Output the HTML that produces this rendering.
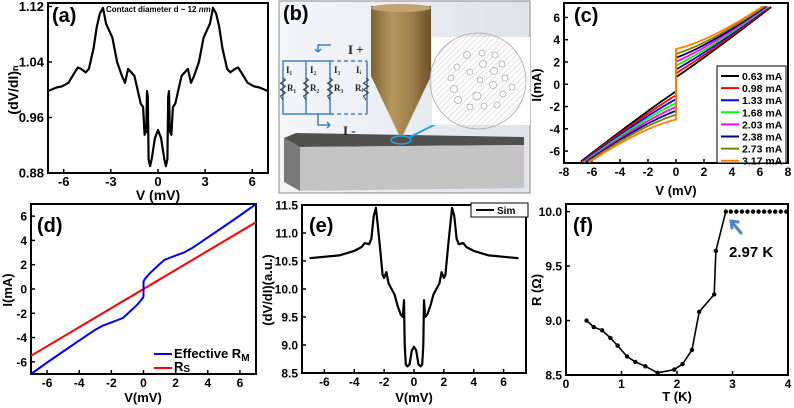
<!DOCTYPE html>
<html><head><meta charset="utf-8"><style>
html,body{margin:0;padding:0;background:#fff;}
svg{display:block;font-family:"Liberation Sans",sans-serif;}
text{font-weight:bold;}
</style></head><body>
<svg id="fig" width="794" height="408" viewBox="0 0 794 408" xmlns="http://www.w3.org/2000/svg">
<g id="panel-b">
  <defs>
    <linearGradient id="brass" x1="0" x2="1" y1="0" y2="0">
      <stop offset="0" stop-color="#7d6233"/><stop offset="0.35" stop-color="#b8975f"/><stop offset="0.7" stop-color="#9c7c48"/><stop offset="1" stop-color="#6b5228"/>
    </linearGradient>
    <linearGradient id="bg" x1="0" x2="1" y1="0" y2="0">
      <stop offset="0" stop-color="#f4f6f9"/><stop offset="1" stop-color="#dfe3ea"/>
    </linearGradient>
    <pattern id="hatch" width="4" height="4" patternUnits="userSpaceOnUse" patternTransform="rotate(45)">
      <line x1="0" y1="0" x2="0" y2="4" stroke="#ccc" stroke-width="1"/>
    </pattern>
  </defs>
  <rect x="279" y="1" width="251" height="192" fill="url(#bg)" stroke="#888" stroke-width="1"/>
  <polygon points="284,138 296,133 524,137 524,145 300,147" fill="#505050"/>
  <polygon points="300,147 524,145 524,188 300,191" fill="#c4c4c4"/>
  <polygon points="284,138 300,147 300,191 284,182" fill="#7a7a7a"/>
  <rect x="371" y="6" width="60" height="70" fill="url(#brass)"/>
  <ellipse cx="401" cy="8" rx="30" ry="4" fill="#c2a46e"/>
  <polygon points="371,76 431,76 403,135 399,135" fill="url(#brass)"/>
  <ellipse cx="401" cy="140" rx="10" ry="4" fill="none" stroke="#2aa3e0" stroke-width="1.5"/>
  <line x1="410" y1="137" x2="436" y2="124" stroke="#2aa3e0" stroke-width="2"/>
  <rect x="432" y="37" width="98" height="88" fill="#fff"/>
  <circle cx="478" cy="81" r="48" fill="url(#hatch)" stroke="#aaa" stroke-width="0.8"/>
  <g id="pores" fill="#fff" stroke="#aaa" stroke-width="0.8"></g>
  <g stroke="#3d85c6" stroke-width="1.5" fill="none">
    <path d="M330,61 H283 V114 H330 M306,61 V114 M367,61 V114"/>
    <path d="M330,61 H367 M330,114 H367" stroke-dasharray="4,3"/>
    <path d="M330,61 V114"/>
    <path d="M320,45 H318 V52 M318,52 l-3,-3 M318,52 l3,-3" />
    <path d="M318,114 V125 H330 M330,125 l-3,-3 M330,125 l-3,3"/>
    <path d="M318,45 H331"/>
  </g>
  <g id="resistors" stroke="#333" stroke-width="1" fill="none"></g>
  <g font-family="Liberation Serif, serif" font-weight="normal" fill="#222">
    <text x="348" y="54" font-size="13" font-weight="normal">I +</text>
    <text x="343" y="135" font-size="13" font-weight="normal">I -</text>
    <text x="286" y="73" font-size="9" font-weight="normal">I₁</text>
    <text x="310" y="73" font-size="9" font-weight="normal">I₂</text>
    <text x="334" y="73" font-size="9" font-weight="normal">I₃</text>
    <text x="356" y="73" font-size="9" font-weight="normal">Iᵢ</text>
    <text x="287" y="91" font-size="9" font-weight="normal">R₁</text>
    <text x="310" y="91" font-size="9" font-weight="normal">R₂</text>
    <text x="334" y="91" font-size="9" font-weight="normal">R₃</text>
    <text x="355" y="91" font-size="9" font-weight="normal">Rᵢ</text>
  </g>
  <text x="283" y="20" font-size="20">(b)</text>
</g>
<g id="charts"></g>
</svg>
<script>
// ---------- DATA ----------
// (a)
const aV = [0,0.2,0.4,0.5,0.6,0.65,0.7,0.75,0.85,0.95,1.1,1.3,1.5,1.7,1.9,2.1,2.3,2.6,2.9,3.1,3.3,3.5,3.7,3.9,4.1,4.4,4.6,4.9,5.1,5.3,5.7,6.1,6.5,7];
const aY = [0.942,0.93,0.90,0.89,0.90,0.99,0.998,0.94,0.935,0.975,0.98,1.0,1.02,1.025,1.03,1.01,1.02,1.04,1.075,1.085,1.095,1.118,1.11,1.09,1.06,1.03,1.025,1.03,1.032,1.025,1.01,1.005,1.003,0.998];
const aXTicks = [-6,-3,0,3,6];
const aYTicks = [0.88,0.96,1.04,1.12];
// (c)
const cOffsets = [0.63,0.98,1.33,1.68,2.03,2.38,2.73,3.17];
const cLabels = ["0.63 mA","0.98 mA","1.33 mA","1.68 mA","2.03 mA","2.38 mA","2.73 mA","3.17 mA"];
const cColors = ["#000","#f00","#00f","#0f0","#f0f","#000080","#808000","#ff8000"];
const cXTicks = [-8,-6,-4,-2,0,2,4,6,8];
const cYTicks = [-6,-4,-2,0,2,4,6];
// (d)
const dBlueV = [0,0,0.05,0.2,0.4,0.6,0.8,1.0,1.3,1.6,2,2.5,3,4,5,6,7];
const dBlueI = [0,0.6,0.75,1.0,1.3,1.55,1.8,2.05,2.4,2.55,2.75,3.0,3.35,4.25,5.15,6.05,7];
const dRedSlope = [5.5/7];
const dXTicks = [-6,-4,-2,0,2,4,6];
const dYTicks = [-6,-4,-2,0,2,4,6];
// (e)
const eV = [0,0.15,0.3,0.45,0.55,0.62,0.67,0.75,0.9,1.1,1.3,1.5,1.7,1.85,2.0,2.1,2.3,2.45,2.55,2.7,2.85,3.0,3.3,3.5,4,5,7];
const eY = [8.97,8.9,8.65,8.62,8.65,9.0,9.8,9.5,9.55,9.7,9.9,10.0,10.1,10.3,10.2,10.25,10.8,11.2,11.45,11.3,10.9,10.8,10.82,10.75,10.68,10.6,10.55];
const eXTicks = [-6,-4,-2,0,2,4,6];
const eYTicks = [8.5,9.0,9.5,10.0,10.5,11.0,11.5];
// (f)
const fT = [0.37,0.5,0.65,0.8,0.93,1.1,1.25,1.43,1.65,1.95,2.1,2.27,2.4,2.67,2.7,2.88];
const fR = [9.0,8.94,8.91,8.84,8.77,8.67,8.62,8.58,8.52,8.55,8.6,8.73,9.08,9.24,9.64,10.0];
const fFlatT = [2.97,3.07,3.17,3.27,3.37,3.47,3.57,3.67,3.77,3.87,3.97];
const fFlatR = [10,10,10,10,10,10,10,10,10,10,10];
const fXTicks = [0,1,2,3,4];
const fYTicks = [8.5,9.0,9.5,10.0];

// ---------- HELPERS ----------
const NS = "http://www.w3.org/2000/svg";
const root = document.getElementById('charts');
function mk(tag, parent, attrs){
  const e = document.createElementNS(NS, tag);
  for (const k in attrs) e.setAttribute(k, attrs[k]);
  (parent||root).appendChild(e);
  return e;
}
function scale(d0,d1,r0,r1){ return v => r0 + (v-d0)/(d1-d0)*(r1-r0); }
function fmt(v,dec){ return dec ? v.toFixed(dec) : String(v); }

function axes(name, x0,x1,y0,y1, xs, ys, xt, yt, xdec, ydec, fs){
  const g = mk('g');
  
  
  const fr = mk('rect', g, {x:x0,y:y0,width:x1-x0,height:y1-y0,fill:'none',stroke:'#000','stroke-width':2});
  
  
  xt.forEach(v=>{
    const x = xs(v);
    const t = mk('line', g, {x1:x,x2:x,y1:y1,y2:y1-4,stroke:'#000','stroke-width':1.5});
    
    
    const l = mk('text', g, {x:x,y:y1+13,'text-anchor':'middle','font-size':fs});
    l.textContent = fmt(v,xdec);
    
    
  });
  yt.forEach(v=>{
    const y = ys(v);
    const t = mk('line', g, {x1:x0,x2:x0+4,y1:y,y2:y,stroke:'#000','stroke-width':1.5});
    
    
    const l = mk('text', g, {x:x0-4,y:y+4.5,'text-anchor':'end','font-size':fs});
    l.textContent = fmt(v,ydec);
    
    
  });
  return g;
}
function line(name, pts, color, w, clip){
  const d = pts.map((p,i)=>(i?'L':'M')+p[0].toFixed(1)+','+p[1].toFixed(1)).join('');
  const p = mk('path', null, {d:d,fill:'none',stroke:color,'stroke-width':w,'stroke-linejoin':'round'});
  if (clip) p.setAttribute('clip-path','url(#'+clip+')');
  
  
  return p;
}
function txt(name, x,y,s,fs,anchor,rot){
  const t = mk('text', null, {x:x,y:y,'font-size':fs,'text-anchor':anchor||'start'});
  if (rot) t.setAttribute('transform','rotate(-90 '+x+' '+y+')');
  t.textContent = s;
  
  
  return t;
}
function clipRect(id,x0,x1,y0,y1){
  const defs = mk('defs');
  const c = mk('clipPath', defs, {id:id});
  mk('rect', c, {x:x0,y:y0,width:x1-x0,height:y1-y0});
}
function mirror(V,Y){
  const pts=[];
  for(let i=V.length-1;i>0;i--) pts.push([-V[i],Y[i]]);
  for(let i=0;i<V.length;i++) pts.push([V[i],Y[i]]);
  return pts;
}
function oddMirror(V,Y){
  const pts=[];
  for(let i=V.length-1;i>0;i--) pts.push([-V[i],-Y[i]]);
  for(let i=0;i<V.length;i++) pts.push([V[i],Y[i]]);
  return pts;
}

// ---------- (a) ----------
(function(){
  const x0=48,x1=268,y0=3,y1=173;
  const xs=scale(-7,7,x0,x1), ys=scale(0.88,1.125,y1,y0);
  axes('panel-a',x0,x1,y0,y1,xs,ys,aXTicks,aYTicks,0,2,13);
  line('panel-a-dvdi-curve', mirror(aV,aY).map(p=>[xs(p[0]),ys(p[1])]), '#000', 2.2);
  txt('panel-a-label',52,22,'(a)',20);
  const c = txt('contact-diameter-note',106,12,'Contact diameter d ~ 12 ',8);
  const it = document.createElementNS(NS,'tspan'); it.setAttribute('font-style','italic'); it.textContent='nm'; c.appendChild(it);
  txt('panel-a-x-title',158,200,'V (mV)',14,'middle');
  txt('panel-a-y-title',18,90,'(dV/dI)ₙ',14,'middle',true);
})();

// ---------- (c) ----------
(function(){
  const x0=564,x1=788,y0=3,y1=163;
  const xs=scale(-8,8,x0,x1), ys=scale(-7.07,7.3,y1,y0);
  clipRect('clipC',x0,x1,y0,y1);
  axes('panel-c',x0,x1,y0,y1,xs,ys,cXTicks,cYTicks,0,0,12);
  cOffsets.forEach((off,k)=>{
    const pts=[];
    for(let v=-7.5; v<=-0.0001; v+=0.1){
      const i = v - off*Math.exp(v/4.5);
      if (i >= -7) pts.push([xs(v),ys(i)]);
    }
    pts.push([xs(0),ys(-off)]);
    pts.push([xs(0),ys(off)]);
    for(let v=0.1; v<=7.5; v+=0.1){
      const i = v + off*Math.exp(-v/4.5);
      if (i <= 7) pts.push([xs(v),ys(i)]);
    }
    line('panel-c-iv-curve-'+k, pts, cColors[k], 1.8, 'clipC');
  });
  const lg = mk('rect',null,{x:717,y:66,width:69,height:97,fill:'#fff',stroke:'#000','stroke-width':1});
  
  
  cLabels.forEach((s,k)=>{
    const y=76+k*12.1;
    const l=mk('line',null,{x1:721,x2:739,y1:y,y2:y,stroke:cColors[k],'stroke-width':2});
    
    
    txt('legend-entry-'+k,742,y+4,s,10.5);
  });
  txt('panel-c-label',574,22,'(c)',20);
  txt('panel-c-x-title',676,195,'V (mV)',13,'middle');
  txt('panel-c-y-title',541,85,'I(mA)',13,'middle',true);
})();

// ---------- (d) ----------
(function(){
  const x0=31,x1=256,y0=204,y1=374;
  const xs=scale(-7,7,x0,x1), ys=scale(-7,7,y1,y0);
  axes('panel-d',x0,x1,y0,y1,xs,ys,dXTicks,dYTicks,0,0,12);
  line('panel-d-rs-line',[[xs(-7),ys(-7*dRedSlope[0])],[xs(7),ys(7*dRedSlope[0])]],'#f00',2);
  line('panel-d-effective-rm-curve', oddMirror(dBlueV,dBlueI).map(p=>[xs(p[0]),ys(p[1])]),'#00f',2);
  const l1=mk('line',null,{x1:154,x2:172,y1:354,y2:354,stroke:'#00f','stroke-width':2});
  
  
  const t1=txt('legend-entry-effective-rm',174,358,'Effective R',13);
  const s1=document.createElementNS(NS,'tspan'); s1.setAttribute('font-size','10'); s1.setAttribute('dy','3'); s1.textContent='M'; t1.appendChild(s1);
  const l2=mk('line',null,{x1:154,x2:172,y1:368,y2:368,stroke:'#f00','stroke-width':2});
  
  
  const t2=txt('legend-entry-rs',174,371,'R',13);
  const s2=document.createElementNS(NS,'tspan'); s2.setAttribute('font-size','10'); s2.setAttribute('dy','1'); s2.textContent='S'; t2.appendChild(s2);
  txt('panel-d-label',37,232,'(d)',20);
  txt('panel-d-x-title',143,402,'V(mV)',13,'middle');
  txt('panel-d-y-title',12,290,'I(mA)',13,'middle',true);
})();

// ---------- (e) ----------
(function(){
  const x0=302,x1=526,y0=205,y1=373;
  const xs=scale(-7.5,7.5,x0,x1), ys=scale(8.5,11.5,y1,y0);
  axes('panel-e',x0,x1,y0,y1,xs,ys,eXTicks,eYTicks,0,1,12);
  line('panel-e-sim-curve', mirror(eV,eY).map(p=>[xs(p[0]),ys(p[1])]), '#000', 2.2);
  const lb=mk('rect',null,{x:471,y:203,width:57,height:14,fill:'#fff',stroke:'#000','stroke-width':1});
  
  
  const ll=mk('line',null,{x1:476,x2:494,y1:210,y2:210,stroke:'#000','stroke-width':2});
  
  
  txt('legend-entry-sim',497,214,'Sim',10);
  txt('panel-e-label',309,232,'(e)',20);
  txt('panel-e-x-title',414,402,'V(mV)',13,'middle');
  txt('panel-e-y-title',272,290,'(dV/dI)(a.u.)',13,'middle',true);
})();

// ---------- (f) ----------
(function(){
  const x0=566,x1=788,y0=204,y1=375;
  const xs=scale(0,4,x0,x1), ys=scale(8.5,10.07,y1,y0);
  axes('panel-f',x0,x1,y0,y1,xs,ys,fXTicks,fYTicks,0,1,12);
  line('panel-f-rt-curve', fT.map((t,i)=>[xs(t),ys(fR[i])]), '#000', 1.6);
  fT.forEach((t,i)=>{
    const c=mk('circle',null,{cx:xs(t),cy:ys(fR[i]),r:2.2,fill:'#000'});
    
    
  });
  fFlatT.forEach((t,i)=>{
    const c=mk('circle',null,{cx:xs(t),cy:ys(fFlatR[i]),r:2.2,fill:'#000'});
    
    
  });
  const ar=mk('path',null,{d:'M741,233 L731,221 M731,221 l1,7 M731,221 l7,1',stroke:'#4a86c8','stroke-width':3,fill:'none','stroke-linecap':'round'});
  
  
  txt('tc-annotation',729,257,'2.97 K',15);
  txt('panel-f-label',573,232,'(f)',20);
  txt('panel-f-x-title',677,401,'T (K)',13,'middle');
  txt('panel-f-y-title',541,290,'R (Ω)',13,'middle',true);
})();

// ---------- (b) extras ----------
(function(){
  const pores=document.getElementById('pores');
  const P=[[467,55,3.5],[482,53,3],[495,55,3],[457,67,3],[483,64,3.5],[502,64,3],[470,72,3],[494,71,3.5],[451,78,3],[480,80,2.8],[505,78,3],[493,85,3.5],[512,87,3],[454,89,3.5],[477,96,4],[503,94,3],[458,100,3.5],[470,107,3],[484,106,3],[497,105,3]];
  P.forEach(p=>{
    const c=mk('circle',pores,{cx:p[0],cy:p[1],r:p[2]});
    
    
  });
  const rg=document.getElementById('resistors');
  [283,306,330,366].forEach(x=>{
    let d='M'+x+',78';
    for(let i=0;i<6;i++) d+=' L'+(x+(i%2?-2.5:2.5))+','+(80+i*3.2);
    d+=' L'+x+',100';
    const z=mk('path',rg,{d:d});
    
    
  });
})();
</script>
</body></html>
